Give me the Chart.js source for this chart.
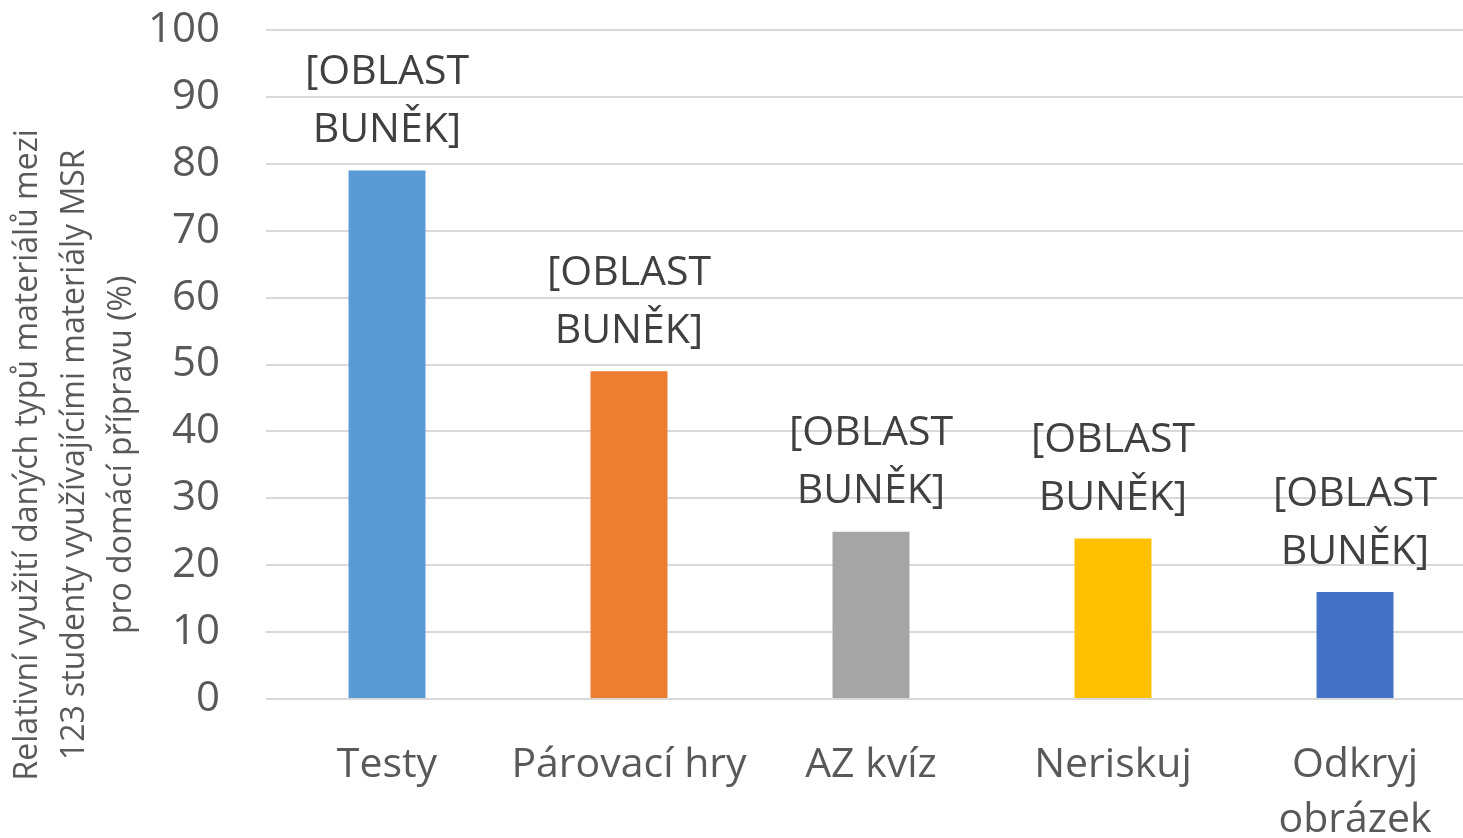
<!DOCTYPE html>
<html>
<head>
<meta charset="utf-8">
<script src="https://cdn.jsdelivr.net/npm/chart.js@4"></script>
<style>
  html, body { margin: 0; padding: 0; background: #fff; overflow: hidden; }
  #wrap { width: 1476px; height: 838px; position: relative; }
</style>
</head>
<body>
<div id="wrap"><canvas id="chart"></canvas></div>
<script>
// data
const categories = ['Testy', 'Párovací hry', 'AZ kvíz', 'Neriskuj', ['Odkryj', 'obrázek']];
const values = [79, 49, 25, 24, 16];
const barColors = ['#5B9BD5', '#ED7D31', '#A5A5A5', '#FFC000', '#4472C4'];
const labelLines = ['[OBLAST', 'BUNĚK]'];
const yTitle = ['Relativní využití daných typů materiálů mezi', '123 studenty využívajícími materiály MSR', 'pro domácí přípravu (%)'];

const FONT = "'Open Sans', 'Noto Sans', sans-serif";

// draws the two line placeholder labels above each bar
const barLabels = {
  id: 'barLabels',
  afterDatasetsDraw(chart) {
    const ctx = chart.ctx;
    const meta = chart.getDatasetMeta(0);
    ctx.save();
    ctx.font = '41px ' + FONT;
    ctx.fillStyle = '#404040';
    ctx.textAlign = 'center';
    ctx.textBaseline = 'middle';
    meta.data.forEach(bar => {
      ctx.fillText(labelLines[0], bar.x, bar.y - 98);
      ctx.fillText(labelLines[1], bar.x, bar.y - 40);
    });
    ctx.restore();
  }
};

// y axis title, sits a bit lower than the axis middle like in the excel chart
const yTitlePlugin = {
  id: 'yTitlePlugin',
  afterDraw(chart) {
    const ctx = chart.ctx;
    const area = chart.chartArea;
    const cy = area.bottom - (area.bottom - area.top) * 0.365;
    ctx.save();
    ctx.translate(75, cy);
    ctx.rotate(-Math.PI / 2);
    ctx.font = '32px ' + FONT;
    ctx.fillStyle = '#595959';
    ctx.textAlign = 'center';
    ctx.textBaseline = 'middle';
    yTitle.forEach((line, i) => ctx.fillText(line, 0, (i - 1) * 47));
    ctx.restore();
  }
};

new Chart(document.getElementById('chart'), {
  type: 'bar',
  data: {
    labels: categories,
    datasets: [{
      data: values,
      backgroundColor: barColors,
      barPercentage: 0.318,
      categoryPercentage: 1
    }]
  },
  options: {
    responsive: true,
    maintainAspectRatio: false,
    animation: false,
    layout: { padding: { top: 30, right: 0, bottom: 0, left: 4 } },
    plugins: { legend: { display: false }, tooltip: { enabled: false } },
    scales: {
      x: {
        grid: { display: false },
        border: { display: false },
        ticks: { color: '#595959', font: { family: FONT, size: 41, lineHeight: 1.36 }, padding: 30, maxRotation: 0, autoSkip: false },
        afterFit(s) { s.height = 139; s.paddingLeft = 0; s.paddingRight = 0; }
      },
      y: {
        min: 0, max: 100,
        ticks: { stepSize: 10, color: '#595959', font: { family: FONT, size: 42 }, padding: 46 },
        grid: { color: '#D9D9D9', lineWidth: 2, drawTicks: false },
        border: { display: false },
        afterFit(s) { s.width = 262; s.paddingTop = 0; s.paddingBottom = 0; }
      }
    }
  },
  plugins: [barLabels, yTitlePlugin]
});
</script>
</body>
</html>
